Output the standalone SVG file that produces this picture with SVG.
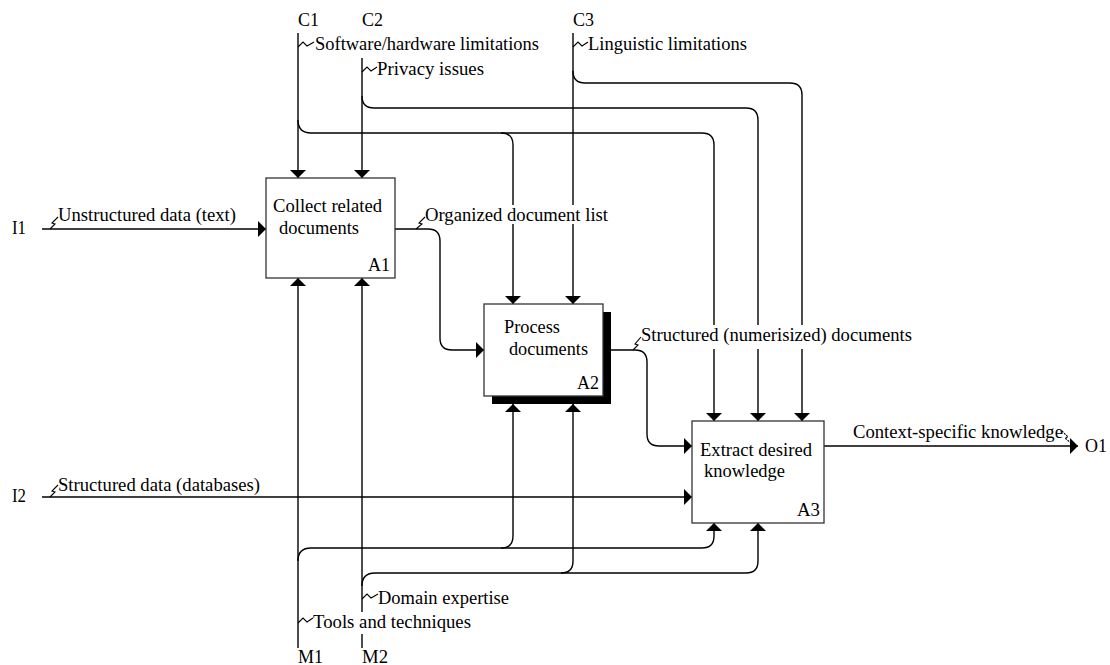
<svg xmlns="http://www.w3.org/2000/svg" width="1110" height="665" viewBox="0 0 1110 665">
<style>
text{font-family:"Liberation Serif","Times New Roman",serif;font-size:18px;fill:#000}
.box{fill:#fff;stroke:#333;stroke-width:1.3}
.ln{fill:none;stroke:#000;stroke-width:1.4}
.arr{marker-end:url(#ah)}
.sq{fill:none;stroke:#000;stroke-width:1.1}
.bg{fill:#fff}
</style>
<defs>
<marker id="ah" markerUnits="userSpaceOnUse" viewBox="0 0 8 16" refX="8" refY="8" markerWidth="8" markerHeight="16" orient="auto">
<path d="M0,0 L8,8 L0,16 Z" fill="#000"/>
</marker>
</defs>
<rect width="1110" height="665" fill="#fff"/>

<g id="connectors">
<path class="ln arr" d="M298,33 V178"/>
<path class="ln arr" d="M298,120 Q298,133 311,133 H702 Q714,133 714,145 V421"/>
<path class="ln arr" d="M501,133 Q513,133 513,145 V304"/>
<path class="ln arr" d="M362,58 V178"/>
<path class="ln arr" d="M362,96 Q362,108 374,108 H746 Q758,108 758,120 V421"/>
<path class="ln arr" d="M573,33 V304"/>
<path class="ln arr" d="M573,71 Q573,83 585,83 H790 Q802,83 802,95 V421"/>
<path class="ln arr" d="M42,229 H266"/>
<path class="ln arr" d="M395,229 H428 Q440,229 440,241 V338 Q440,350 452,350 H484"/>
<path class="ln arr" d="M603,350 H635 Q647,350 647,362 V434 Q647,446 659,446 H692"/>
<path class="ln arr" d="M42,497 H692"/>
<path class="ln arr" d="M824,446 H1078"/>
<path class="ln arr" d="M298,648 V278"/>
<path class="ln arr" d="M298,561 Q298,548 311,548 H702 Q714,548 714,536 V523"/>
<path class="ln arr" d="M501,548 Q513,548 513,536 V404"/>
<path class="ln arr" d="M362,648 V278"/>
<path class="ln arr" d="M362,586 Q362,573 375,573 H746 Q758,573 758,561 V523"/>
<path class="ln arr" d="M561,573 Q573,573 573,561 V404"/>
</g>

<g id="labels">
<text x="298" y="26" textLength="21" lengthAdjust="spacingAndGlyphs">C1</text>
<text x="362" y="26" textLength="21" lengthAdjust="spacingAndGlyphs">C2</text>
<text x="573" y="26" textLength="21" lengthAdjust="spacingAndGlyphs">C3</text>
<polyline class="sq" points="298,47 303,42 307,46 314,42"/>
<text x="315" y="50" textLength="224" lengthAdjust="spacingAndGlyphs">Software/hardware limitations</text>
<polyline class="sq" points="362,72 367,67 371,71 377,67"/>
<text x="377" y="75" textLength="107" lengthAdjust="spacingAndGlyphs">Privacy issues</text>
<polyline class="sq" points="573,47 578,42 582,46 588,42"/>
<text x="588" y="50" textLength="159" lengthAdjust="spacingAndGlyphs">Linguistic limitations</text>

<text x="12" y="234" textLength="14" lengthAdjust="spacingAndGlyphs">I1</text>
<polyline class="sq" points="50,229 55,224 52,223 58,217"/>
<text x="58" y="221" textLength="178" lengthAdjust="spacingAndGlyphs">Unstructured data (text)</text>

<rect class="bg" x="424" y="205" width="186" height="19"/>
<polyline class="sq" points="416,229 422,224 419,223 425,217"/>
<text x="425" y="221" textLength="183" lengthAdjust="spacingAndGlyphs">Organized document list</text>

<rect class="bg" x="640" y="325" width="273" height="24"/>
<polyline class="sq" points="633,350 638,345 635,344 641,337"/>
<text x="641" y="341" textLength="271" lengthAdjust="spacingAndGlyphs">Structured (numerisized) documents</text>

<text x="12" y="502" textLength="14" lengthAdjust="spacingAndGlyphs">I2</text>
<polyline class="sq" points="50,497 55,492 52,491 58,485"/>
<text x="58" y="491" textLength="202" lengthAdjust="spacingAndGlyphs">Structured data (databases)</text>

<text x="853" y="438" textLength="210" lengthAdjust="spacingAndGlyphs">Context-specific knowledge</text>
<polyline class="sq" points="1062,431 1068,437 1065,438 1072,444" stroke-dasharray="2,1"/>
<text x="1085" y="452" textLength="22" lengthAdjust="spacingAndGlyphs">O1</text>

<polyline class="sq" points="362,599 367,594 371,598 378,594"/>
<text x="378" y="604" textLength="131" lengthAdjust="spacingAndGlyphs">Domain expertise</text>
<rect class="bg" x="312" y="612" width="161" height="22"/>
<polyline class="sq" points="298,623 303,618 307,622 313,618"/>
<text x="313" y="628" textLength="158" lengthAdjust="spacingAndGlyphs">Tools and techniques</text>

<text x="298" y="663" textLength="25" lengthAdjust="spacingAndGlyphs">M1</text>
<text x="362" y="663" textLength="26" lengthAdjust="spacingAndGlyphs">M2</text>
</g>

<g id="A1">
<rect class="box" x="266" y="178" width="129" height="100"/>
<text x="273" y="212" textLength="109" lengthAdjust="spacingAndGlyphs">Collect related</text>
<text x="279" y="234" textLength="80" lengthAdjust="spacingAndGlyphs">documents</text>
<text x="368" y="271" textLength="22" lengthAdjust="spacingAndGlyphs">A1</text>
</g>

<g id="A2">
<rect x="492" y="312" width="119" height="92" fill="#000"/>
<rect class="box" x="484" y="304" width="119" height="92"/>
<text x="504" y="333" textLength="56" lengthAdjust="spacingAndGlyphs">Process</text>
<text x="509" y="355" textLength="79" lengthAdjust="spacingAndGlyphs">documents</text>
<text x="577" y="389" textLength="22" lengthAdjust="spacingAndGlyphs">A2</text>
</g>

<g id="A3">
<rect class="box" x="692" y="421" width="132" height="102"/>
<text x="700" y="456" textLength="112" lengthAdjust="spacingAndGlyphs">Extract desired</text>
<text x="704" y="477" textLength="81" lengthAdjust="spacingAndGlyphs">knowledge</text>
<text x="797" y="516" textLength="23" lengthAdjust="spacingAndGlyphs">A3</text>
</g>
</svg>
